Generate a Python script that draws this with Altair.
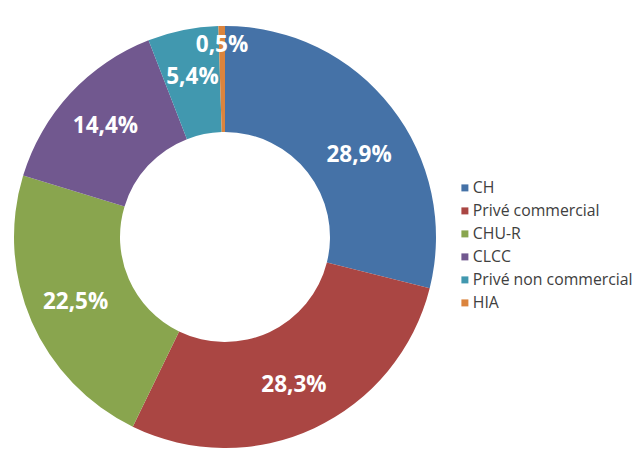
import altair as alt
import pandas as pd

categories = ["CH", "Privé commercial", "CHU-R", "CLCC", "Privé non commercial", "HIA"]
values = [28.9, 28.3, 22.5, 14.4, 5.4, 0.5]
labels = ["28,9%", "28,3%", "22,5%", "14,4%", "5,4%", "0,5%"]
colors = ["#4572A7", "#AA4643", "#89A54E", "#71588F", "#4198AF", "#DB843D"]

df = pd.DataFrame({"cat": categories, "value": values, "label": labels, "idx": list(range(len(categories)))})

CY = 229
FS = 22.5

base = alt.Chart(df).encode(
    theta=alt.Theta("value:Q", stack=True),
    order=alt.Order("idx:Q", sort="ascending"),
)

arc = base.mark_arc(outerRadius=211, innerRadius=105, y=CY).encode(
    color=alt.Color(
        "cat:N",
        scale=alt.Scale(domain=categories, range=colors),
        sort=categories,
        legend=alt.Legend(
            title=None,
            orient="none",
            legendX=449,
            legendY=172,
            symbolType="square",
            symbolSize=49,
            symbolStrokeWidth=0,
            labelFontSize=15.8,
            labelFont="Open Sans",
            labelColor="#404040",
            labelOffset=0,
            labelLimit=400,
            rowPadding=6,
            padding=0,
        ),
    )
)

def label_layer(expr, radius, dx=0, dy=0):
    return base.transform_calculate(t=expr).mark_text(
        radius=radius, y=CY, dx=dx, dy=dy, fontSize=FS, fontWeight="bold",
        color="white", font="Open Sans"
    ).encode(text="t:N")

txt_ch = label_layer("datum.cat == 'CH' ? datum.label : ''", 160, dx=8, dy=16)
txt_main = label_layer("(datum.cat == 'HIA' || datum.cat == 'CH') ? '' : datum.label", 163)
txt_small = label_layer("datum.cat == 'HIA' ? datum.label : ''", 192)

chart = alt.layer(arc, txt_ch, txt_main, txt_small).properties(
    width=434, height=440, padding=0
).configure_view(stroke=None)

chart.save("out.html", embed_options={"renderer": "svg", "actions": False})
